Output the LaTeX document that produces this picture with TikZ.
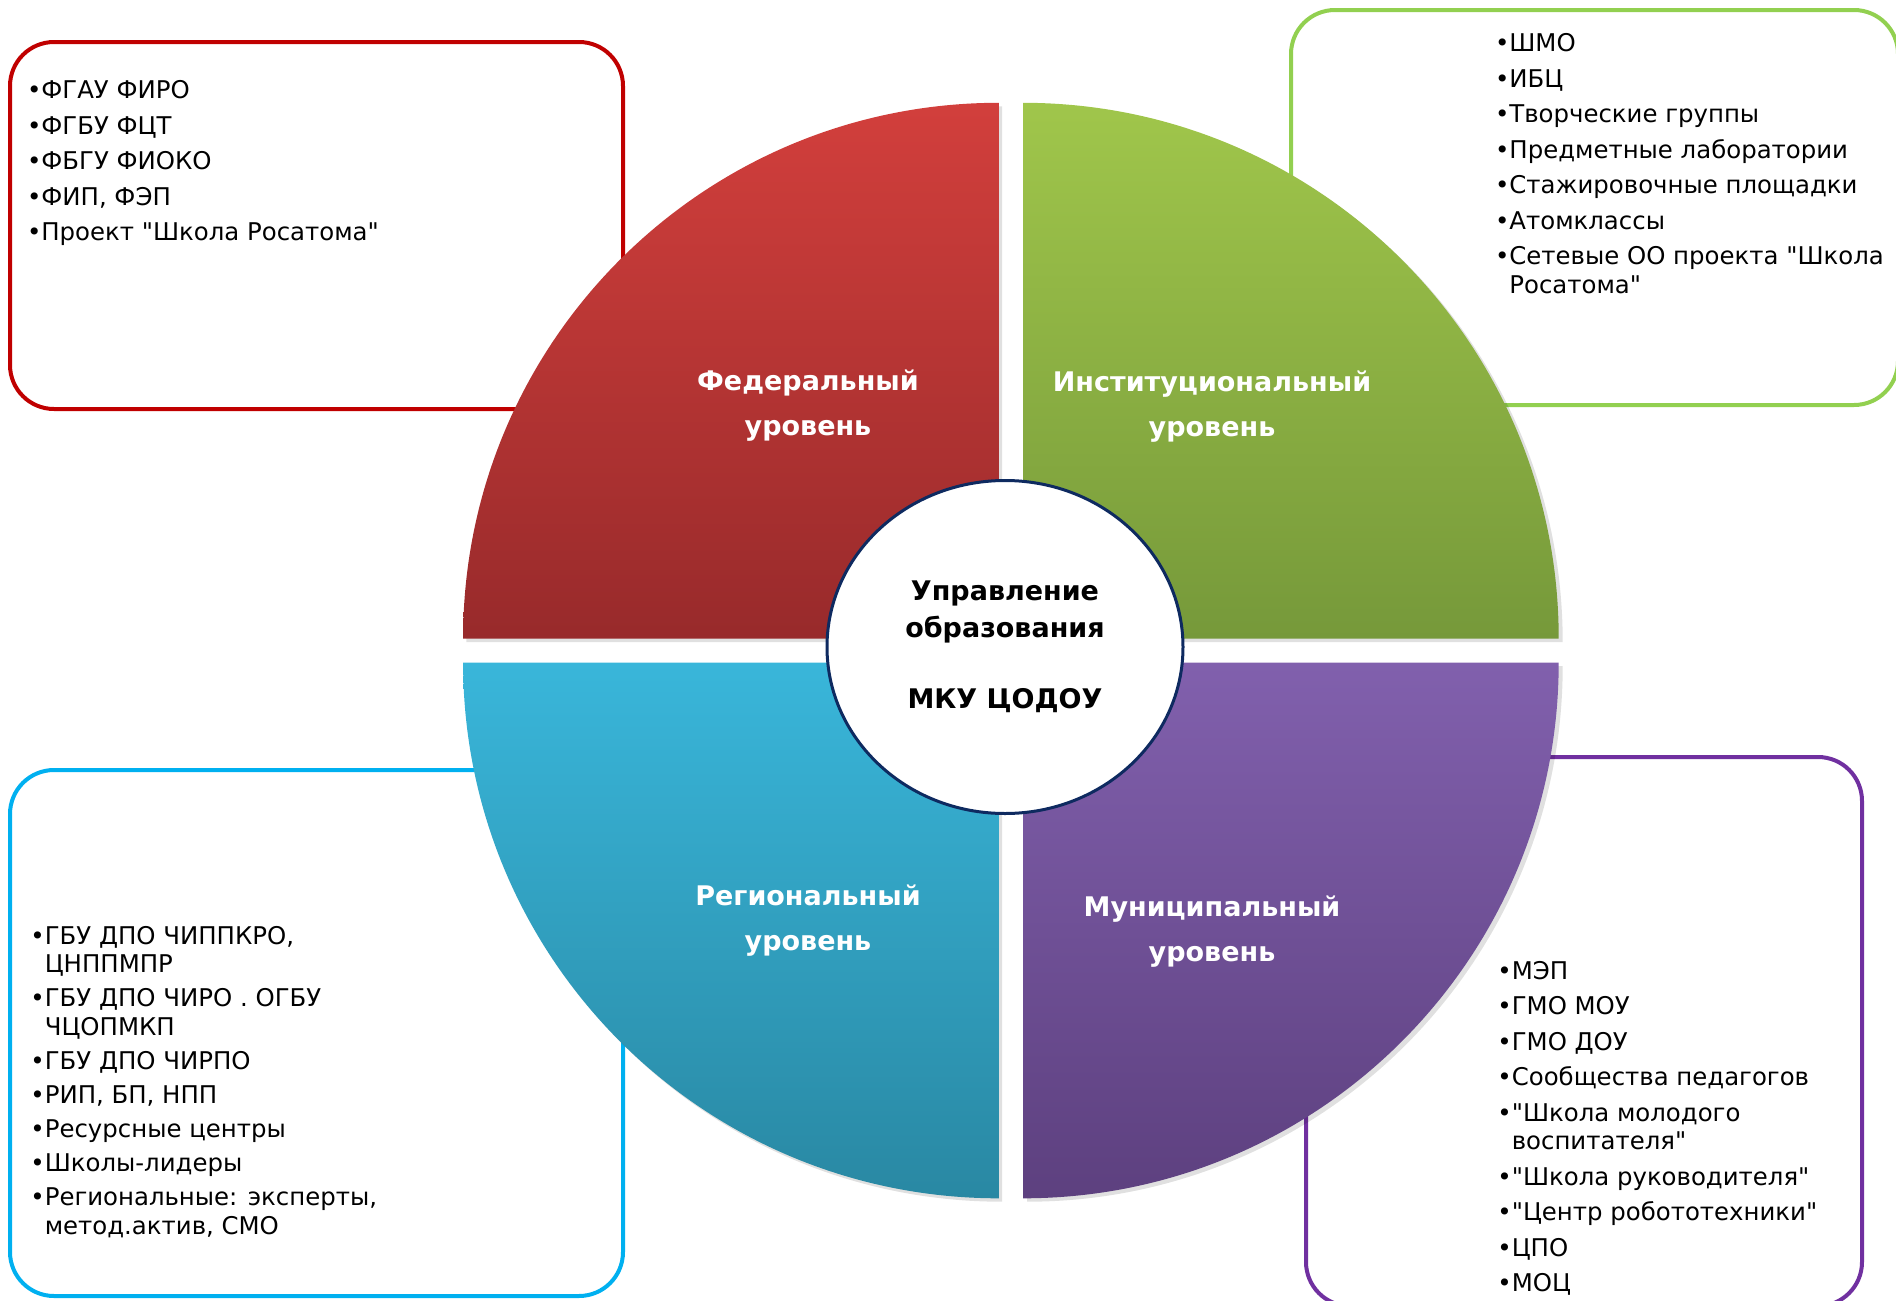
\documentclass[tikz,border=0pt]{standalone}
\usepackage{fontspec}
\setmainfont{DejaVu Sans}[Ligatures=TeXOff]
\usetikzlibrary{positioning,shapes.geometric}

\definecolor{fedline}{HTML}{C00000}
\definecolor{instline}{HTML}{92D050}
\definecolor{regline}{HTML}{00B0F0}
\definecolor{munline}{HTML}{7030A0}
\definecolor{fedtop}{HTML}{D23F3C}
\definecolor{fedbot}{HTML}{982A2B}
\definecolor{insttop}{HTML}{A0C64B}
\definecolor{instbot}{HTML}{76993A}
\definecolor{regtop}{HTML}{39B6DA}
\definecolor{regbot}{HTML}{2988A3}
\definecolor{muntop}{HTML}{8160AD}
\definecolor{munbot}{HTML}{5D407F}
\definecolor{hubline}{HTML}{0E2A60}

\tikzset{
  listbox/.style={rounded corners=22pt, line width=2pt, fill=white},
  listtext/.style={anchor=north west, align=left, inner sep=0pt,
    font=\fontsize{12.2}{17.75}\selectfont},
  leveltext/.style={align=center, text=white, inner sep=0pt,
    font=\bfseries\fontsize{13.5}{22.5}\selectfont},
  dropshadow/.style={fill=black, opacity=0.12},
  hub/.style={ellipse, draw=hubline, line width=1.5pt, fill=white,
    minimum width=178pt, minimum height=166.5pt, align=center,
    font=\bfseries\fontsize{13.5}{18.75}\selectfont},
}

\begin{document}
\begin{tikzpicture}[x=0.5pt, y=-0.5pt]
\useasboundingbox (0,0) rectangle (1896,1301);
\clip (0,0) rectangle (1896,1301);

% frames behind the pie
\draw[listbox, draw=fedline] (10,42) rectangle (623,409);
\draw[listbox, draw=instline] (1291,10) rectangle (1898,405);
\draw[listbox, draw=regline] (10,770) rectangle (623,1296);
\draw[listbox, draw=munline] (1306,757) rectangle (1862,1306);

% shadows of the four levels
\fill[dropshadow] (1002,642) -- ++(-535.7,0) arc[start angle=180, end angle=270, radius=535.7] -- cycle;
\fill[dropshadow] (1027,642) -- ++(0,-535.7) arc[start angle=270, end angle=360, radius=535.7] -- cycle;
\fill[dropshadow] (1002,666) -- ++(-535.7,0) arc[start angle=180, end angle=90, radius=535.7] -- cycle;
\fill[dropshadow] (1027,666) -- ++(535.7,0) arc[start angle=0, end angle=90, radius=535.7] -- cycle;

% four levels
\shade[top color=fedtop, bottom color=fedbot] (998.8,638.5) -- ++(-535.7,0) arc[start angle=180, end angle=270, radius=535.7] -- cycle;
\shade[top color=insttop, bottom color=instbot] (1023,638.5) -- ++(0,-535.7) arc[start angle=270, end angle=360, radius=535.7] -- cycle;
\shade[top color=regtop, bottom color=regbot] (998.8,662.6) -- ++(-535.7,0) arc[start angle=180, end angle=90, radius=535.7] -- cycle;
\shade[top color=muntop, bottom color=munbot] (1023,662.6) -- ++(535.7,0) arc[start angle=0, end angle=90, radius=535.7] -- cycle;

\node[leveltext] (fed) at (808,406) {Федеральный\\уровень};
\node[leveltext] (inst) at (1212,406.5) {Институциональный\\уровень};
\node[leveltext] (reg) at (808,921) {Региональный\\уровень};
\node[leveltext] (mun) at (1212,931.5) {Муниципальный\\уровень};

\node[hub] (uo) at (1005,647) {Управление\\образования\\[16.75pt]МКУ ЦОДОУ};

% lists
\node[listtext] (fedlist) at (26.6,80) {•ФГАУ ФИРО\\•ФГБУ ФЦТ\\•ФБГУ ФИОКО\\•ФИП, ФЭП\\•Проект "Школа Росатома"};
\node[listtext] (instlist) at (1494.6,33) {•ШМО\\•ИБЦ\\•Творческие группы\\•Предметные лаборатории\\•Стажировочные площадки\\•Атомклассы\\•Сетевые ОО проекта "Школа\\[-3.3pt]\phantom{•}Росатома"};
\node[listtext, font=\fontsize{12.2}{16.95}\selectfont] (reglist) at (30,925.5) {•ГБУ ДПО ЧИППКРО,\\[-2.5pt]\phantom{•}ЦНППМПР\\•ГБУ ДПО ЧИРО . ОГБУ\\[-2.5pt]\phantom{•}ЧЦОПМКП\\•ГБУ ДПО ЧИРПО\\•РИП, БП, НПП\\•Ресурсные центры\\•Школы-лидеры\\•Региональные: эксперты,\\[-2.5pt]\phantom{•}метод.актив, СМО};
\node[listtext] (munlist) at (1497,960.5) {•МЭП\\•ГМО МОУ\\•ГМО ДОУ\\•Сообщества педагогов\\•"Школа молодого\\[-3.3pt]\phantom{•}воспитателя"\\•"Школа руководителя"\\•"Центр робототехники"\\•ЦПО\\•МОЦ};
\end{tikzpicture}
\end{document}
